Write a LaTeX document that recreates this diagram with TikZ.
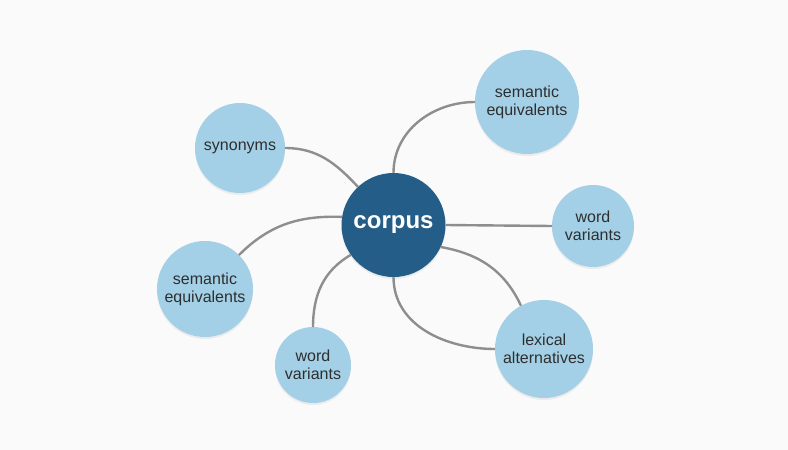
\documentclass[tikz,border=0pt]{standalone}
\usepackage{fontspec}
\setmainfont{Liberation Sans}
\usetikzlibrary{positioning}
\usetikzlibrary{shadows}
\definecolor{bubble}{HTML}{A3D0E6}
\definecolor{hubblue}{HTML}{245D87}
\definecolor{linkgray}{HTML}{8E8E8E}
\definecolor{paper}{HTML}{FAFAFA}
\definecolor{ink}{HTML}{2E2E2E}

\begin{document}
\begin{tikzpicture}[x=1pt,y=1pt,
leaf/.style={circle, fill=bubble, text=ink, align=center, inner sep=0pt, outer sep=0pt,
  font=\fontsize{16}{18}\selectfont,
  drop shadow={shadow xshift=0pt, shadow yshift=-2pt, opacity=.12}},
hub/.style={leaf, fill=hubblue, text=white, minimum size=104pt,
  font=\fontsize{24}{27}\selectfont\bfseries},
link/.style={draw=linkgray, line width=2.4pt}]
\fill[paper] (0,0) rectangle (788,-450);
\useasboundingbox (0,0) rectangle (788,-450);
\node[hub] (corpus) at (393.5,-225) {corpus};
\node[leaf, minimum size=90pt]  (syn)   at (240,-148) {synonyms};
\node[leaf, minimum size=104pt] (semR)  at (527,-102) {semantic\\equivalents};
\node[leaf, minimum size=82pt]  (wordR) at (593,-226) {word\\variants};
\node[leaf, minimum size=96pt]  (semL)  at (205,-289) {semantic\\equivalents};
\node[leaf, minimum size=76pt]  (wordB) at (313,-365) {word\\variants};
\node[leaf, minimum size=98pt]  (lex)   at (544,-349) {lexical\\alternatives};
\draw[link] (syn.east) to[out=0,in=133] (corpus.133);
\draw[link] (corpus.north) to[out=90,in=180] (semR.west);
\draw[link] (corpus.east) -- (wordR.west);
\draw[link] (corpus.171) to[out=178,in=45] (semL.45);
\draw[link] (corpus.215) to[out=210,in=90] (wordB.north);
\draw[link] (corpus.335) to[out=-10,in=115] (lex.118);
\draw[link] (corpus.south) to[out=270,in=180] (lex.west);
\end{tikzpicture}
\end{document}
